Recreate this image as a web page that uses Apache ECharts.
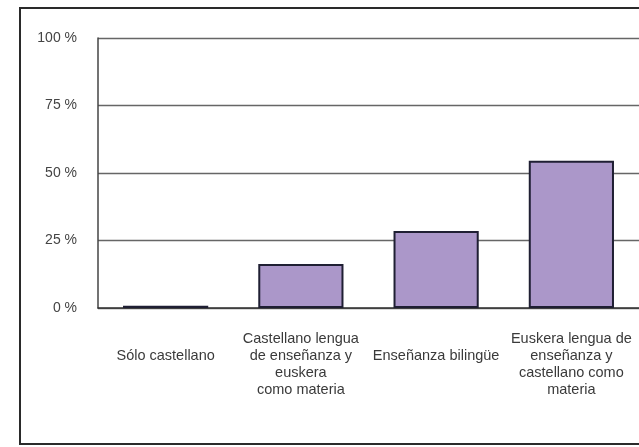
<!DOCTYPE html>
<html>
<head>
<meta charset="utf-8">
<script src="https://cdn.jsdelivr.net/npm/echarts@6/dist/echarts.min.js"></script>
<style>
html,body{margin:0;padding:0;background:#fff;}
#c{width:639px;height:447px;}
</style>
</head>
<body>
<div id="c"></div>
<script>
var categories = [
  "Sólo castellano",
  "Castellano lengua\nde enseñanza y\neuskera\ncomo materia",
  "Enseñanza bilingüe",
  "Euskera lengua de\nenseñanza y\ncastellano como\nmateria"
];
var values = [0.8, 16.3, 28.5, 54.5];
var yTicks = [0, 25, 50, 75, 100];

var chart = echarts.init(document.getElementById('c'), null, {renderer: 'canvas'});
chart.setOption({
  animation: false,
  backgroundColor: '#ffffff',
  textStyle: {fontFamily: 'Liberation Sans, Arial, sans-serif'},
  graphic: [{
    type: 'rect',
    z: 100,
    shape: {x: 20, y: 8, width: 700, height: 436},
    style: {fill: 'none', stroke: '#2a2a2a', lineWidth: 2}
  }],
  grid: {left: 98, top: 38, bottom: 139, width: 546},
  xAxis: {
    type: 'category',
    data: categories,
    axisTick: {show: false},
    axisLine: {lineStyle: {color: '#333', width: 1.5}},
    axisLabel: {
      interval: 0,
      color: '#3a3a3a',
      fontSize: 14.5,
      lineHeight: 17,
      margin: 22,
      formatter: function (v) { return v.indexOf('\n') < 0 ? '\n' + v : v; }
    }
  },
  yAxis: {
    type: 'value',
    min: yTicks[0],
    max: yTicks[yTicks.length - 1],
    interval: 25,
    axisLine: {show: true, lineStyle: {color: '#444', width: 1.5}},
    axisTick: {show: false},
    splitLine: {lineStyle: {color: '#666', width: 1.3}},
    axisLabel: {
      color: '#444',
      fontSize: 14,
      margin: 21,
      formatter: '{value} %'
    }
  },
  series: [{
    type: 'bar',
    data: values,
    barCategoryGap: '37%',
    itemStyle: {color: '#ab97c9', borderColor: '#1f1f33', borderWidth: 2}
  }]
});
</script>
</body>
</html>
